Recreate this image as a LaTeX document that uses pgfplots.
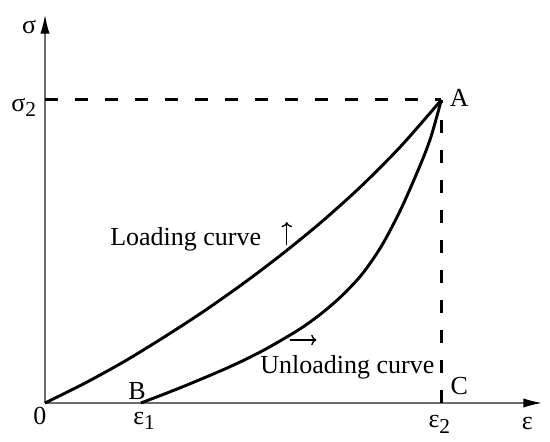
\documentclass[border=0pt]{standalone}
\usepackage{pgfplots}
\pgfplotsset{compat=1.18}
\usepackage{fontspec}
\setmainfont{Liberation Serif}
\usetikzlibrary{arrows.meta}

\begin{document}
\fontsize{19.5}{23}\selectfont
\begin{tikzpicture}
\begin{axis}[
  scale only axis,
  width=372.75pt, height=291pt,
  xmin=0, xmax=1.254,
  ymin=0, ymax=1.28,
  axis x line=bottom, axis y line=left,
  axis line style={gray!85!black, line width=1.1pt, -{Latex[black,length=14pt,width=7pt]}},
  xtick=\empty, ytick=\empty,
  clip=false,
  every node/.style={font=\fontsize{19.5}{23}\selectfont, inner sep=1pt},
]
% dashed guide lines to A
\addplot[black, line width=2.2pt, dash pattern=on 10pt off 12.5pt] coordinates {(0,1) (1,1)};
\addplot[black, line width=2.2pt, dash pattern=on 10pt off 12.5pt] coordinates {(1,0) (1,1)};

% loading curve O -> A
\addplot[black, line width=2.2pt, smooth, tension=0.5] coordinates {
  (0,0) (0.1,0.065) (0.2,0.137) (0.3,0.217) (0.4,0.302) (0.5,0.394)
  (0.6,0.493) (0.7,0.600) (0.8,0.718) (0.9,0.850) (1,1)
};

% unloading curve B -> A
\addplot[black, line width=2.2pt, smooth, tension=0.5] coordinates {
  (0.242,0) (0.30,0.029) (0.35,0.055) (0.40,0.082) (0.45,0.110)
  (0.50,0.140) (0.55,0.173) (0.60,0.210) (0.65,0.250) (0.70,0.298)
  (0.75,0.355) (0.80,0.425) (0.85,0.520) (0.90,0.645) (0.95,0.795)
  (0.975,0.883) (1,1)
};

\coordinate (O) at (axis cs:0,0);

\node at (axis cs:-0.040,1.241) {σ};
\node[anchor=east, inner sep=0pt] at (axis cs:-0.022,0.975) {σ\raisebox{-0.45ex}{\fontsize{16}{16}\selectfont 2}};
\node at (axis cs:-0.013,-0.043) {0};
\node at (axis cs:0.232,0.038) {B};
\node at (axis cs:0.250,-0.058) {ε\raisebox{-0.45ex}{\fontsize{16}{16}\selectfont 1}};
\node at (axis cs:0.995,-0.070) {ε\raisebox{-0.45ex}{\fontsize{16}{16}\selectfont 2}};
\node at (axis cs:1.217,-0.066) {ε};
\node at (axis cs:1.045,0.056) {C};
\node at (axis cs:1.045,1.007) {A};
\node at (axis cs:0.355,0.541) {Loading curve};
\node at (axis cs:0.763,0.119) {Unloading curve};
\draw[black, line width=1pt, -{To[length=4pt,width=8pt]}] (axis cs:0.610,0.521) -- (axis cs:0.610,0.597);
\draw[black, line width=1pt, -{To[length=4pt,width=8pt]}] (axis cs:0.617,0.208) -- (axis cs:0.685,0.208);
\end{axis}
\pgfresetboundingbox
\path (O) ++(-33.75pt,-29.25pt) rectangle ++(412.5pt,331.5pt);
\end{tikzpicture}
\end{document}
